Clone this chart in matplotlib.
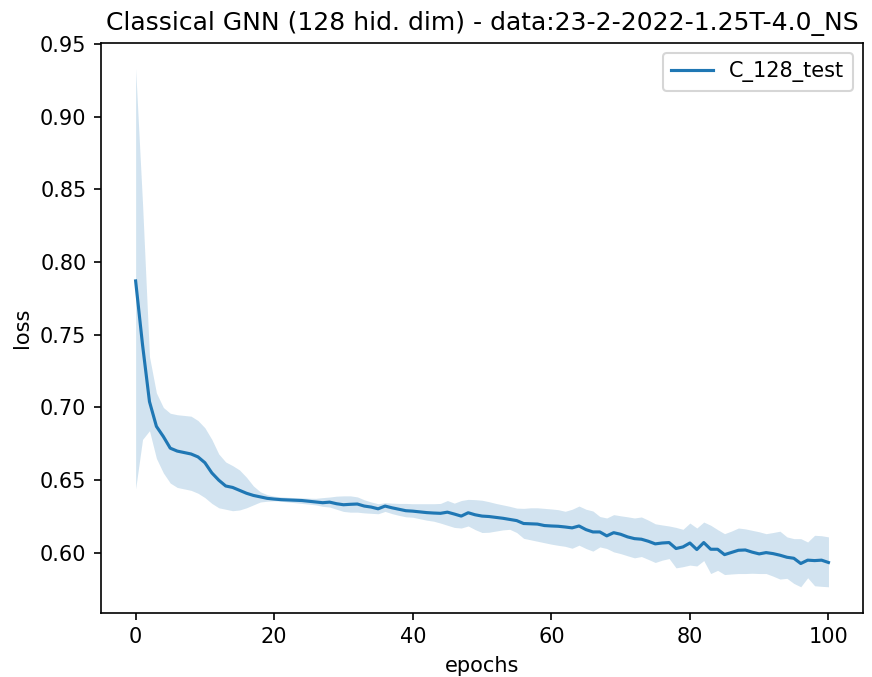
import numpy as np
import matplotlib
matplotlib.use("Agg")
import matplotlib.pyplot as plt

epochs = np.arange(101)

loss_mean = [
    0.787, 0.743, 0.704, 0.687, 0.680, 0.672, 0.670, 0.669, 0.668, 0.666,
    0.662, 0.655, 0.650, 0.646, 0.645, 0.643, 0.641, 0.6395, 0.6385, 0.6375,
    0.637, 0.6366, 0.6364, 0.6362, 0.636, 0.6355, 0.635, 0.6345, 0.6349, 0.6338,
    0.6331, 0.6334, 0.6336, 0.6322, 0.6315, 0.6303, 0.6322, 0.6310, 0.6300, 0.6290,
    0.6287, 0.6282, 0.6277, 0.6274, 0.6272, 0.6280, 0.6267, 0.6253, 0.6276, 0.6262,
    0.6253, 0.6250, 0.6244, 0.6238, 0.6230, 0.6222, 0.6202, 0.6200, 0.6198, 0.6188,
    0.6185, 0.6183, 0.6178, 0.6172, 0.6185, 0.6160, 0.6144, 0.6144, 0.6117, 0.6139,
    0.6128, 0.6110, 0.6098, 0.6094, 0.6080, 0.6062, 0.6068, 0.6071, 0.6030, 0.6041,
    0.6068, 0.6023, 0.6071, 0.6025, 0.6025, 0.5988, 0.6003, 0.6018, 0.6020, 0.6005,
    0.5993, 0.6002, 0.5995, 0.5984, 0.5970, 0.5963, 0.5927, 0.5950, 0.5947, 0.5950,
    0.5934,
]

loss_upper = [
    0.933, 0.840, 0.735, 0.710, 0.700, 0.696, 0.695, 0.6945, 0.694, 0.691,
    0.686, 0.678, 0.668, 0.6625, 0.660, 0.657, 0.652, 0.646, 0.642, 0.640,
    0.639, 0.6385, 0.6382, 0.638, 0.6378, 0.6376, 0.6375, 0.638, 0.6384, 0.6390,
    0.6392, 0.6392, 0.6385, 0.6365, 0.6350, 0.6338, 0.6345, 0.6342, 0.6340, 0.6340,
    0.6338, 0.6338, 0.6338, 0.6338, 0.6340, 0.6360, 0.6342, 0.6360, 0.6368, 0.6366,
    0.6362, 0.6352, 0.6340, 0.6330, 0.6320, 0.6308, 0.6306, 0.6310, 0.6310, 0.6306,
    0.6302, 0.6297, 0.6286, 0.6300, 0.6322, 0.6300, 0.6288, 0.6250, 0.6240, 0.6263,
    0.6255, 0.6248, 0.6240, 0.6247, 0.6225, 0.6200, 0.6192, 0.6185, 0.6175, 0.6162,
    0.6205, 0.6171, 0.6212, 0.6190, 0.6160, 0.6132, 0.6150, 0.6171, 0.6165, 0.6155,
    0.6145, 0.6132, 0.6140, 0.6149, 0.6110, 0.6098, 0.6098, 0.6075, 0.6121, 0.6118,
    0.6110,
]

loss_lower = [
    0.644, 0.678, 0.684, 0.665, 0.655, 0.648, 0.645, 0.644, 0.643, 0.641,
    0.638, 0.634, 0.631, 0.630, 0.629, 0.6295, 0.631, 0.633, 0.635, 0.6355,
    0.6358, 0.6355, 0.635, 0.6345, 0.634, 0.6335, 0.633, 0.632, 0.6315, 0.6300,
    0.6285, 0.6280, 0.6280, 0.6275, 0.6272, 0.6269, 0.6285, 0.6270, 0.6258, 0.6248,
    0.6245, 0.6235, 0.6225, 0.6218, 0.6205, 0.6190, 0.6175, 0.6171, 0.6185, 0.6160,
    0.6140, 0.6142, 0.6150, 0.6158, 0.6162, 0.6140, 0.6100, 0.6090, 0.6080, 0.6070,
    0.6060, 0.6052, 0.6045, 0.6032, 0.6053, 0.6030, 0.6012, 0.6041, 0.6030, 0.6007,
    0.5995, 0.5980, 0.5966, 0.5975, 0.5955, 0.5934, 0.5950, 0.5961, 0.5897, 0.5905,
    0.5916, 0.5910, 0.5947, 0.5858, 0.5880, 0.5851, 0.5855, 0.5858, 0.5858, 0.5860,
    0.5858, 0.5858, 0.5840, 0.5820, 0.5825, 0.5790, 0.5767, 0.5829, 0.5774, 0.5770,
    0.5767,
]

fig = plt.figure(figsize=(872 / 150, 677 / 150), dpi=150)
ax = fig.add_axes([0.1158, 0.095, 0.874, 0.842])

ax.plot(epochs, loss_mean, color="C0", lw=1.5, label="C_128_test")
ax.fill_between(epochs, loss_lower, loss_upper, color="C0", alpha=0.2, lw=0)

ax.set_title("Classical GNN (128 hid. dim) - data:23-2-2022-1.25T-4.0_NS")
ax.set_xlabel("epochs")
ax.set_ylabel("loss")
ax.legend(loc="upper right")

fig.savefig("out.png", dpi=150)
